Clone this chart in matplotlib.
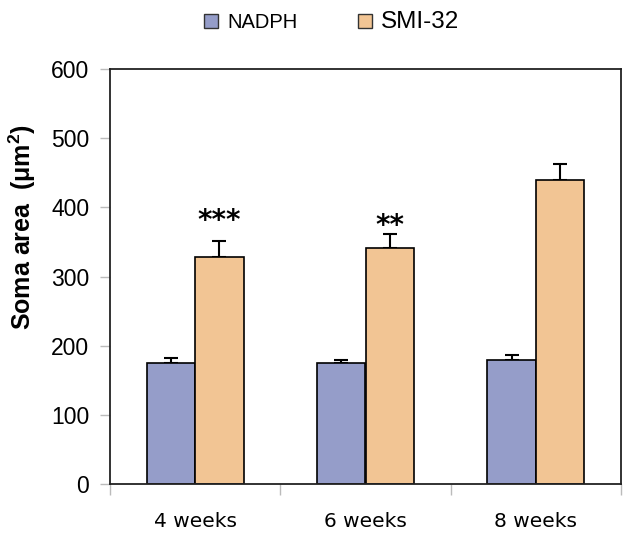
import numpy as np
import matplotlib
matplotlib.use("Agg")
import matplotlib.pyplot as plt
from matplotlib.patches import Patch

plt.rcParams['font.family'] = ['Liberation Sans', 'DejaVu Sans']
plt.rcParams['mathtext.fontset'] = 'custom'
plt.rcParams['mathtext.rm'] = 'Liberation Sans'
plt.rcParams['mathtext.bf'] = 'Liberation Sans:bold'

categories = ['4 weeks', '6 weeks', '8 weeks']
nadph = [175, 175, 179]
nadph_err = [7, 5, 7]
smi32 = [328, 341, 440]
smi32_err = [24, 20, 23]
stars = ['***', '**', '']
star_level = [369, 362, 0]   # baseline of the significance marks

c_nadph = '#959dc9'
c_smi = '#f2c594'

fig = plt.figure(figsize=(6.33, 5.36), dpi=100)
ax = fig.add_axes([110 / 633, 1 - 484 / 536, 511 / 633, 415 / 536])

x = np.arange(len(categories))
w = 0.285
ax.bar(x - w / 2, nadph, w, color=c_nadph, edgecolor='black', linewidth=1.2, zorder=2)
ax.bar(x + w / 2, smi32, w, color=c_smi, edgecolor='black', linewidth=1.2, zorder=2)
ax.errorbar(x - w / 2, nadph, yerr=[np.zeros(3), nadph_err], fmt='none',
            ecolor='black', elinewidth=1.5, capsize=5, capthick=1.5, zorder=1)
ax.errorbar(x + w / 2, smi32, yerr=[np.zeros(3), smi32_err], fmt='none',
            ecolor='black', elinewidth=1.5, capsize=5, capthick=1.5, zorder=1)

for i, s in enumerate(stars):
    if s:
        ax.text(x[i] + w / 2, star_level[i], s, ha='center', va='baseline',
                fontsize=20, fontweight='bold', family='DejaVu Sans')

ax.set_xlim(-0.5, 2.5)
ax.set_ylim(0, 600)
ax.set_yticks(range(0, 601, 100))
ax.set_xticks(x)
ax.set_xticklabels(categories, fontsize=14.5, family='DejaVu Sans')
ax.set_xticks([-0.5, 0.5, 1.5, 2.5], minor=True)
ax.tick_params(axis='x', which='major', length=0, pad=20)
ax.tick_params(axis='x', which='minor', length=8, color='#bbbbbb', width=1)
ax.tick_params(axis='y', length=7, color='#bbbbbb', width=1, labelsize=16.5, pad=8)

for sp in ax.spines.values():
    sp.set_linewidth(1.3)
    sp.set_color('#222222')

fig.text(22 / 633, 1 - 227 / 536, 'Soma area  (μm$^\\mathbf{2}$)', rotation=90,
         ha='center', va='center', fontsize=18, fontweight='bold')

handles = [Patch(facecolor=c_nadph, edgecolor='#333333', linewidth=1),
           Patch(facecolor=c_smi, edgecolor='#333333', linewidth=1)]
leg = fig.legend(handles, ['NADPH', 'SMI-32'], loc='center', bbox_to_anchor=(332 / 633, 1 - 22 / 536),
                 ncol=2, frameon=False, fontsize=14.5, handlelength=0.7, handleheight=0.7,
                 handletextpad=0.45, columnspacing=3.0)
leg.get_texts()[1].set_fontsize(17.5)

fig.savefig('out.png', dpi=100)
